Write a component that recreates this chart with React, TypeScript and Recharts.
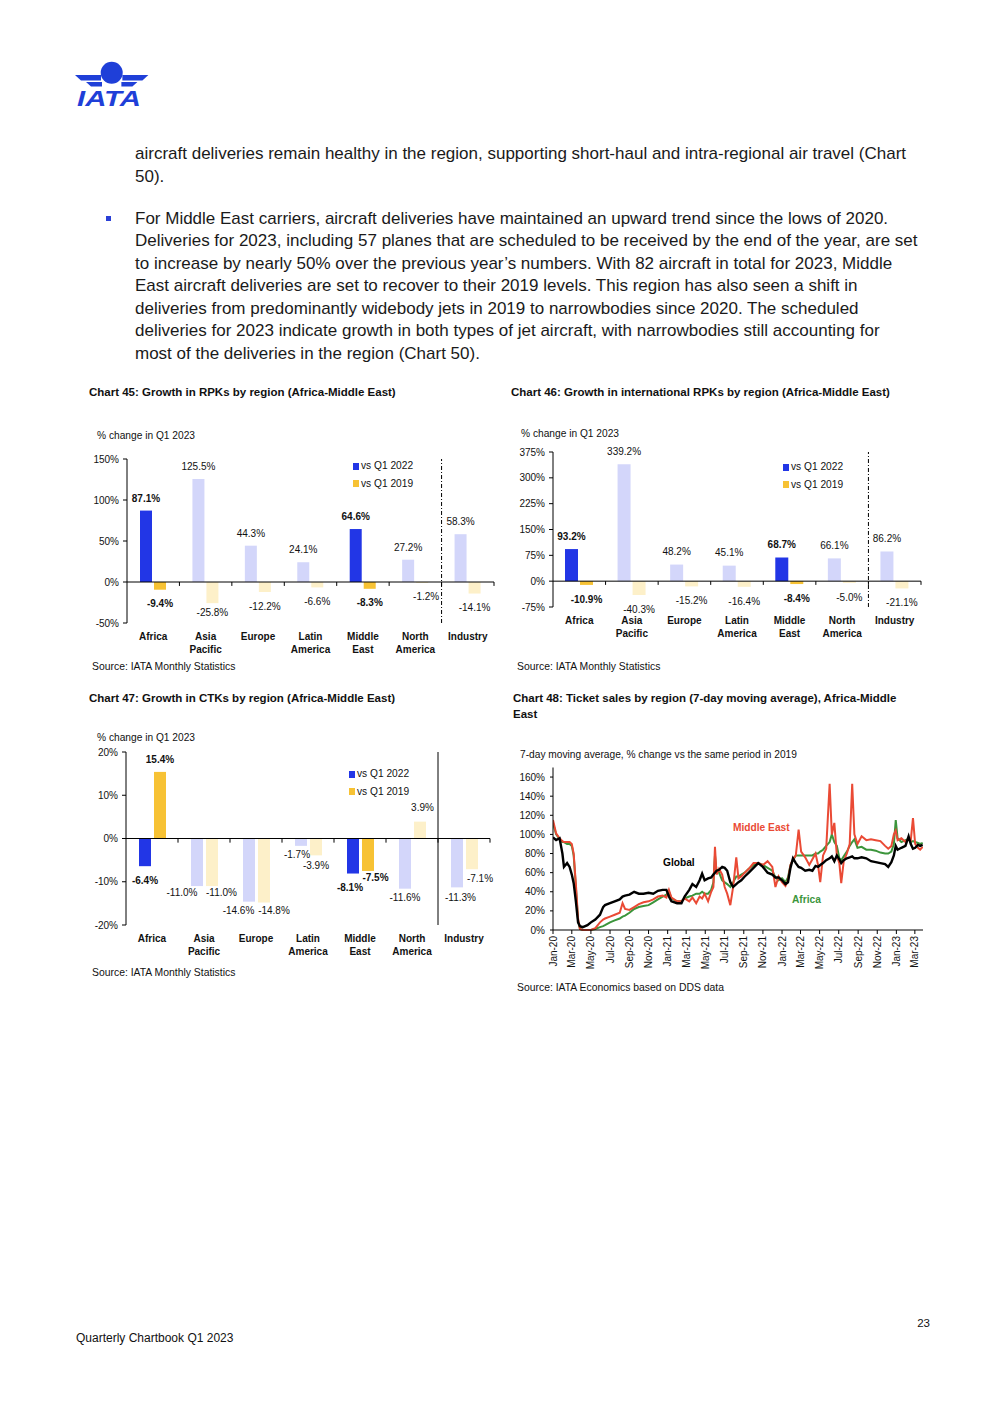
import React from 'react';
import { BarChart, Bar, XAxis, YAxis, Cell, LabelList, ReferenceLine, LineChart, Line } from 'recharts';

const FONT = "'Liberation Sans', Arial, sans-serif";
const INK = '#111';
const BLUE = '#2236e6';
const BLUE_LIGHT = '#d3d6fa';
const GOLD = '#f7c234';
const GOLD_LIGHT = '#fdf0c9';
const RED = '#ea4a35';
const GREEN = '#3b953b';
const LOGO = '#1f3fd8';

// ---- bar charts (45, 46, 47) ----
const regions = ['Africa', 'Asia Pacific', 'Europe', 'Latin America', 'Middle East', 'North America', 'Industry'];
const highlighted = ['Africa', 'Middle East'];

const rpkVsQ122 = [87.1, 125.5, 44.3, 24.1, 64.6, 27.2, 58.3];
const rpkVsQ119 = [-9.4, -25.8, -12.2, -6.6, -8.3, -1.2, -14.1];
const rpkTicks = [-50, 0, 50, 100, 150];

const intlVsQ122 = [93.2, 339.2, 48.2, 45.1, 68.7, 66.1, 86.2];
const intlVsQ119 = [-10.9, -40.3, -15.2, -16.4, -8.4, -5.0, -21.1];
const intlTicks = [-75, 0, 75, 150, 225, 300, 375];

const ctkVsQ122 = [-6.4, -11.0, -14.6, -1.7, -8.1, -11.6, -11.3];
const ctkVsQ119 = [15.4, -11.0, -14.8, -3.9, -7.5, 3.9, -7.1];
const ctkTicks = [-20, -10, 0, 10, 20];

// ---- chart 48: ticket sales, 7-day moving average, % vs 2019 ----
const saleDates = [
  '2020-01-01', '2020-01-11', '2020-01-22', '2020-01-31', '2020-02-05', '2020-02-15', '2020-02-23', '2020-03-01',
  '2020-03-07', '2020-03-14', '2020-03-21', '2020-03-27', '2020-04-05', '2020-04-20', '2020-05-01', '2020-05-15',
  '2020-05-30', '2020-06-09', '2020-06-15', '2020-07-01', '2020-07-16', '2020-08-01', '2020-08-10', '2020-08-18',
  '2020-09-01', '2020-09-16', '2020-10-01', '2020-10-16', '2020-11-01', '2020-11-16', '2020-12-01', '2020-12-16',
  '2020-12-28', '2021-01-05', '2021-01-13', '2021-01-31', '2021-02-14', '2021-02-24', '2021-03-11', '2021-03-21',
  '2021-04-02', '2021-04-13', '2021-04-21', '2021-04-29', '2021-05-10', '2021-05-20', '2021-05-27', '2021-06-01',
  '2021-06-06', '2021-06-14', '2021-06-24', '2021-07-02', '2021-07-10', '2021-07-20', '2021-07-29', '2021-08-08',
  '2021-08-15', '2021-08-24', '2021-09-04', '2021-09-17', '2021-10-02', '2021-10-17', '2021-11-01', '2021-11-16',
  '2021-12-01', '2021-12-11', '2021-12-21', '2022-01-01', '2022-01-12', '2022-01-20', '2022-01-28', '2022-02-05',
  '2022-02-14', '2022-02-23', '2022-03-03', '2022-03-16', '2022-03-29', '2022-04-08', '2022-04-18', '2022-04-26',
  '2022-05-03', '2022-05-12', '2022-05-22', '2022-06-02', '2022-06-09', '2022-06-17', '2022-06-25', '2022-07-03',
  '2022-07-09', '2022-07-17', '2022-07-27', '2022-08-05', '2022-08-13', '2022-08-20', '2022-08-30', '2022-09-12',
  '2022-09-27', '2022-10-12', '2022-10-27', '2022-11-11', '2022-11-26', '2022-12-06', '2022-12-16', '2022-12-24',
  '2022-12-30', '2023-01-05', '2023-01-17', '2023-01-30', '2023-02-09', '2023-02-16', '2023-02-23', '2023-03-02',
  '2023-03-11', '2023-03-18', '2023-03-26',
];
const globalSales = [
  97, 94, 96, 80, 66, 70, 66, 58, 49, 30, 8, 4, 3, 5, 8, 11,
  16, 24, 26, 28, 30, 32, 35, 36, 37, 40, 38, 38, 39, 38, 41, 42,
  42, 35, 30, 28, 28, 35, 42, 48, 45, 52, 59, 52, 54, 55, 58, 60,
  62, 63, 66, 65, 62, 50, 45, 48, 50, 52, 56, 60, 65, 70, 66, 60,
  58, 55, 55, 52, 48, 50, 65, 75, 70, 66, 65, 62, 63, 62, 67, 66,
  68, 70, 73, 75, 77, 72, 78, 74, 70, 73, 75, 76, 77, 75, 75, 76,
  75, 72, 71, 70, 69, 66, 71, 78, 88, 84, 86, 88, 98, 90, 85, 86,
  89, 88, 89,
];
const africaSales = [
  112, 100, 95, 92, 92, 90, 90, 88, 78, 45, 10, 1, 0, 0, 0, 1,
  3, 4, 5, 8, 10, 12, 14, 15, 18, 22, 24, 25, 26, 29, 32, 35,
  37, 40, 33, 30, 30, 33, 35, 36, 38, 38, 40, 38, 38, 42, 50, 78,
  62, 60, 52, 50, 48, 45, 50, 56, 56, 58, 60, 64, 68, 70, 68, 65,
  62, 55, 52, 54, 50, 55, 68, 73, 78, 78, 78, 78, 78, 78, 80, 80,
  82, 84, 88, 92, 100, 92, 88, 75, 73, 77, 82, 88, 92, 95, 86, 87,
  84, 84, 83, 81, 80, 80, 82, 90, 115, 96, 92, 94, 95, 92, 93, 92,
  91, 90, 91,
];
const middleEastSales = [
  115, 101, 96, 93, 92, 92, 92, 90, 80, 48, 12, 1, 0, 0, 0, 2,
  8, 11, 12, 14, 16, 18, 28, 22, 21, 24, 27, 29, 30, 32, 35, 36,
  34, 42, 34, 30, 30, 33, 30, 34, 28, 35, 33, 38, 30, 40, 45, 87,
  58, 64, 58, 45, 38, 26, 45, 76, 54, 56, 60, 64, 70, 70, 68, 72,
  66, 45, 56, 50, 46, 52, 68, 74, 78, 105, 82, 76, 68, 74, 80, 68,
  50, 78, 85, 153, 100, 112, 78, 70, 49, 72, 80, 90, 153, 100, 90, 98,
  94, 95, 94, 93, 88, 85, 88, 100, 104, 94, 96, 92, 96, 94, 117, 90,
  86, 84, 87,
];
const saleTickDates = [
  '2020-01-01', '2020-03-01', '2020-05-01', '2020-07-01', '2020-09-01', '2020-11-01',
  '2021-01-01', '2021-03-01', '2021-05-01', '2021-07-01', '2021-09-01', '2021-11-01',
  '2022-01-01', '2022-03-01', '2022-05-01', '2022-07-01', '2022-09-01', '2022-11-01',
  '2023-01-01', '2023-03-01',
];
const saleTickLabels = [
  'Jan-20', 'Mar-20', 'May-20', 'Jul-20', 'Sep-20', 'Nov-20',
  'Jan-21', 'Mar-21', 'May-21', 'Jul-21', 'Sep-21', 'Nov-21',
  'Jan-22', 'Mar-22', 'May-22', 'Jul-22', 'Sep-22', 'Nov-22',
  'Jan-23', 'Mar-23',
];
const saleYTicks = [0, 20, 40, 60, 80, 100, 120, 140, 160];

const dayOf = (s: string) => {
  const [y, m, d] = s.split('-').map(Number);
  return (Date.UTC(y, m - 1, d) - Date.UTC(2020, 0, 1)) / 86400000;
};

const salesData = saleDates.map((d, i) => ({
  day: dayOf(d),
  global: globalSales[i],
  africa: africaSales[i],
  me: middleEastSales[i],
}));
const tickDays = saleTickDates.map(dayOf);

// ---- helpers ----
type Nudge = [number, number];

const Txt = ({ x, y, size = 10.2, bold = false, color = INK, align = 'left', children }: any) => (
  <div
    style={{
      position: 'absolute',
      left: align === 'right' ? undefined : x,
      right: align === 'right' ? 992 - x : undefined,
      top: y - size * 0.6,
      fontSize: size,
      lineHeight: `${size * 1.2}px`,
      fontWeight: bold ? 700 : 400,
      color,
      whiteSpace: 'nowrap',
    }}
  >
    {children}
  </div>
);

const pct = (v: number) => `${v}%`;

const CategoryTick = ({ x, y, payload }: any) => {
  const parts = String(payload.value).split(' ');
  return (
    <text x={x} y={y} textAnchor="middle" fontSize={10} fontWeight={700} fill={INK} fontFamily={FONT}>
      {parts.map((p, i) => (
        <tspan key={p} x={x} dy={i === 0 ? 9 : 13}>
          {p}
        </tspan>
      ))}
    </text>
  );
};

const barLabel = (nudges: Nudge[] | undefined, above: number, below: number) => (props: any) => {
  const vb = props.viewBox || {};
  const x = props.x ?? vb.x;
  const y = props.y ?? vb.y;
  const width = props.width ?? vb.width;
  const height = props.height ?? vb.height;
  const { value, index } = props;
  if (value == null) return null;
  const top = Math.min(y, y + height);
  const bottom = Math.max(y, y + height);
  const [dx, dy] = (nudges && nudges[index]) || [0, 0];
  const cy = value >= 0 ? top - above : bottom + below;
  const bold = highlighted.includes(regions[index]);
  return (
    <text
      x={x + width / 2 + dx}
      y={cy + dy}
      textAnchor="middle"
      dominantBaseline="central"
      fontSize={10}
      fontWeight={bold ? 700 : 400}
      fill={INK}
      fontFamily={FONT}
    >
      {Number(value).toFixed(1)}%
    </text>
  );
};

interface PanelProps {
  left: number;
  top: number;
  width: number;
  height: number;
  margin: { top: number; right: number; bottom: number; left: number };
  yWidth: number;
  recent: number[];
  previous: number[];
  ticks: number[];
  barSize: number;
  barGap: number;
  sepDash?: string;
  nudgeRecent?: Nudge[];
  nudgePrevious?: Nudge[];
  above?: number;
  below?: number;
}

const GrowthPanel = (p: PanelProps) => {
  const data = regions.map((r, i) => ({ region: r, recent: p.recent[i], previous: p.previous[i] }));
  const lo = p.ticks[0];
  const hi = p.ticks[p.ticks.length - 1];
  const tickLen = (hi - lo) * 0.024;
  return (
    <div style={{ position: 'absolute', left: p.left, top: p.top }}>
      <BarChart width={p.width} height={p.height} data={data} margin={p.margin} barGap={p.barGap}>
        <XAxis dataKey="region" axisLine={false} tickLine={false} height={40} interval={0} tick={<CategoryTick />} />
        <YAxis
          domain={[lo, hi]}
          ticks={p.ticks}
          width={p.yWidth}
          tickFormatter={pct}
          axisLine={{ stroke: '#000' }}
          tickLine={{ stroke: '#000' }}
          tickSize={4}
          tickMargin={4}
          tick={{ fontSize: 10, fill: INK, fontFamily: FONT }}
          interval={0}
        />
        <Bar dataKey="recent" barSize={p.barSize} isAnimationActive={false}>
          {data.map((d) => (
            <Cell key={d.region} fill={highlighted.includes(d.region) ? BLUE : BLUE_LIGHT} />
          ))}
          <LabelList dataKey="recent" content={barLabel(p.nudgeRecent, p.above ?? 12.5, p.below ?? 14)} />
        </Bar>
        <Bar dataKey="previous" barSize={p.barSize} isAnimationActive={false}>
          {data.map((d) => (
            <Cell key={d.region} fill={highlighted.includes(d.region) ? GOLD : GOLD_LIGHT} />
          ))}
          <LabelList dataKey="previous" content={barLabel(p.nudgePrevious, p.above ?? 12.5, p.below ?? 14)} />
        </Bar>
        <ReferenceLine y={0} stroke="#000" strokeWidth={1} />
        <ReferenceLine x="Industry" position="start" stroke="#000" strokeWidth={1} strokeDasharray={p.sepDash} />
        {regions.slice(1).map((r) => (
          <ReferenceLine
            key={r}
            segment={[{ x: r, y: 0 }, { x: r, y: -tickLen }]}
            position="start"
            stroke="#000"
          />
        ))}
        <ReferenceLine segment={[{ x: 'Industry', y: 0 }, { x: 'Industry', y: -tickLen }]} position="end" stroke="#000" />
      </BarChart>
    </div>
  );
};

const LegendBox = ({ x, y }: { x: number; y: number }) => (
  <>
    <div style={{ position: 'absolute', left: x, top: y - 3.5, width: 6, height: 7, background: BLUE }} />
    <Txt x={x + 8} y={y}>vs Q1 2022</Txt>
    <div style={{ position: 'absolute', left: x, top: y + 17 - 3.5, width: 6, height: 7, background: GOLD }} />
    <Txt x={x + 8} y={y + 18}>vs Q1 2019</Txt>
  </>
);

const DateTick = ({ x, y, payload }: any) => {
  const i = tickDays.indexOf(payload.value);
  return (
    <text
      transform={`translate(${x},${y}) rotate(-90)`}
      textAnchor="end"
      dominantBaseline="central"
      fontSize={10}
      fill={INK}
      fontFamily={FONT}
    >
      {i >= 0 ? saleTickLabels[i] : ''}
    </text>
  );
};

const bodyLines = [
  { y: 154, t: 'aircraft deliveries remain healthy in the region, supporting short-haul and intra-regional air travel (Chart' },
  { y: 177, t: '50).' },
  { y: 219, t: 'For Middle East carriers, aircraft deliveries have maintained an upward trend since the lows of 2020.' },
  { y: 241, t: 'Deliveries for 2023, including 57 planes that are scheduled to be received by the end of the year, are set' },
  { y: 264, t: 'to increase by nearly 50% over the previous year\u2019s numbers. With 82 aircraft in total for 2023, Middle' },
  { y: 286, t: 'East aircraft deliveries are set to recover to their 2019 levels. This region has also seen a shift in' },
  { y: 309, t: 'deliveries from predominantly widebody jets in 2019 to narrowbodies since 2020. The scheduled' },
  { y: 331, t: 'deliveries for 2023 indicate growth in both types of jet aircraft, with narrowbodies still accounting for' },
  { y: 354, t: 'most of the deliveries in the region (Chart 50).' },
];

const Logo = () => (
  <svg width={200} height={120} style={{ position: 'absolute', left: 0, top: 0 }}>
    <circle cx={111.7} cy={72.7} r={11} fill={LOGO} />
    <polygon points="75,75 101,75 101,80.5 81,80.5" fill={LOGO} />
    <polygon points="86,82 102,82 102,86.5 91,86.5" fill={LOGO} />
    <polygon points="148.4,75 122.4,75 122.4,80.5 142.4,80.5" fill={LOGO} />
    <polygon points="137.4,82 121.4,82 121.4,86.5 132.4,86.5" fill={LOGO} />
    <text
      x={77}
      y={106}
      fontSize={22}
      fontWeight={900}
      fontStyle="italic"
      fill={LOGO}
      fontFamily={FONT}
      textLength={64}
      lengthAdjust="spacingAndGlyphs"
    >
      IATA
    </text>
  </svg>
);

export default function App() {
  return (
    <div
      style={{
        position: 'absolute',
        left: 0,
        top: 0,
        width: 992,
        height: 1403,
        background: '#fff',
        fontFamily: FONT,
        color: INK,
        overflow: 'hidden',
      }}
    >
      <Logo />

      {bodyLines.map((l) => (
        <Txt key={l.y} x={135} y={l.y} size={17} color="#1a1a1a">
          {l.t}
        </Txt>
      ))}
      <div style={{ position: 'absolute', left: 106, top: 216, width: 5, height: 5, background: '#2a3fd6' }} />

      {/* Chart 45 */}
      <Txt x={89} y={393} size={11.5} bold>Chart 45: Growth in RPKs by region (Africa-Middle East)</Txt>
      <Txt x={97} y={436}>% change in Q1 2023</Txt>
      <GrowthPanel
        left={85}
        top={440}
        width={420}
        height={235}
        margin={{ top: 19, right: 11, bottom: 12, left: 2 }}
        yWidth={40}
        recent={rpkVsQ122}
        previous={rpkVsQ119}
        ticks={rpkTicks}
        barSize={12}
        barGap={2}
        sepDash="4 2 1 2"
        nudgePrevious={[[0, 0], [0, -5], [0, 0], [0, 0], [0, 0], [4, 0], [0, 0]]}
      />
      <LegendBox x={353} y={466} />
      <Txt x={92} y={667} size={10.4}>Source: IATA Monthly Statistics</Txt>

      {/* Chart 46 */}
      <Txt x={511} y={393} size={11.5} bold>Chart 46: Growth in international RPKs by region (Africa-Middle East)</Txt>
      <Txt x={521} y={434}>% change in Q1 2023</Txt>
      <GrowthPanel
        left={505}
        top={435}
        width={430}
        height={240}
        margin={{ top: 17, right: 14, bottom: 28, left: 4 }}
        yWidth={44}
        recent={intlVsQ122}
        previous={intlVsQ119}
        ticks={intlTicks}
        barSize={13}
        barGap={2}
        sepDash="4 2 1 2"
        above={13}
        below={14.5}
      />
      <LegendBox x={783} y={467} />
      <Txt x={517} y={667} size={10.4}>Source: IATA Monthly Statistics</Txt>

      {/* Chart 47 */}
      <Txt x={89} y={699} size={11.5} bold>Chart 47: Growth in CTKs by region (Africa-Middle East)</Txt>
      <Txt x={97} y={738}>% change in Q1 2023</Txt>
      <GrowthPanel
        left={85}
        top={740}
        width={420}
        height={240}
        margin={{ top: 12, right: 15, bottom: 15, left: 3 }}
        yWidth={38}
        recent={ctkVsQ122}
        previous={ctkVsQ119}
        ticks={ctkTicks}
        barSize={12}
        barGap={3}
        nudgeRecent={[[0, 0], [-15, -8], [-10.5, -5], [-4, -5], [-3, 0], [0, -5], [3.5, -4]]}
        nudgePrevious={[[0, 0], [9.5, -8], [10, -6], [0, -4], [7.5, -7], [2.5, -2], [8, -5]]}
      />
      <LegendBox x={349} y={774} />
      <Txt x={92} y={973} size={10.4}>Source: IATA Monthly Statistics</Txt>

      {/* Chart 48 */}
      <Txt x={513} y={699} size={11.5} bold>Chart 48: Ticket sales by region (7-day moving average), Africa-Middle</Txt>
      <Txt x={513} y={715} size={11.5} bold>East</Txt>
      <Txt x={520} y={755}>7-day moving average, % change vs the same period in 2019</Txt>
      <div style={{ position: 'absolute', left: 505, top: 760 }}>
        <LineChart width={430} height={225} data={salesData} margin={{ top: 7.5, right: 12, bottom: 10, left: 4 }}>
          <XAxis
            dataKey="day"
            type="number"
            domain={[0, 1181]}
            ticks={tickDays}
            interval={0}
            allowDataOverflow
            height={45}
            axisLine={{ stroke: '#000' }}
            tickLine={{ stroke: '#000' }}
            tickSize={4}
            tickMargin={2}
            tick={<DateTick />}
          />
          <YAxis
            domain={[0, 170]}
            ticks={saleYTicks}
            width={44}
            interval={0}
            tickFormatter={pct}
            axisLine={{ stroke: '#000' }}
            tickLine={{ stroke: '#000' }}
            tickSize={3}
            tickMargin={5}
            tick={{ fontSize: 10, fill: INK, fontFamily: FONT }}
          />
          <Line dataKey="africa" stroke={GREEN} strokeWidth={2} dot={false} isAnimationActive={false} />
          <Line dataKey="me" stroke={RED} strokeWidth={2} dot={false} isAnimationActive={false} />
          <Line dataKey="global" stroke="#000" strokeWidth={2.4} dot={false} isAnimationActive={false} />
        </LineChart>
      </div>
      <Txt x={733} y={828} bold color={RED}>Middle East</Txt>
      <Txt x={663} y={863} bold color="#000">Global</Txt>
      <Txt x={792} y={900} bold color={GREEN}>Africa</Txt>
      <Txt x={517} y={988} size={10.4}>Source: IATA Economics based on DDS data</Txt>

      {/* footer */}
      <Txt x={930} y={1324} size={11.5} align="right">23</Txt>
      <Txt x={76} y={1338} size={12}>Quarterly Chartbook Q1 2023</Txt>
    </div>
  );
}
